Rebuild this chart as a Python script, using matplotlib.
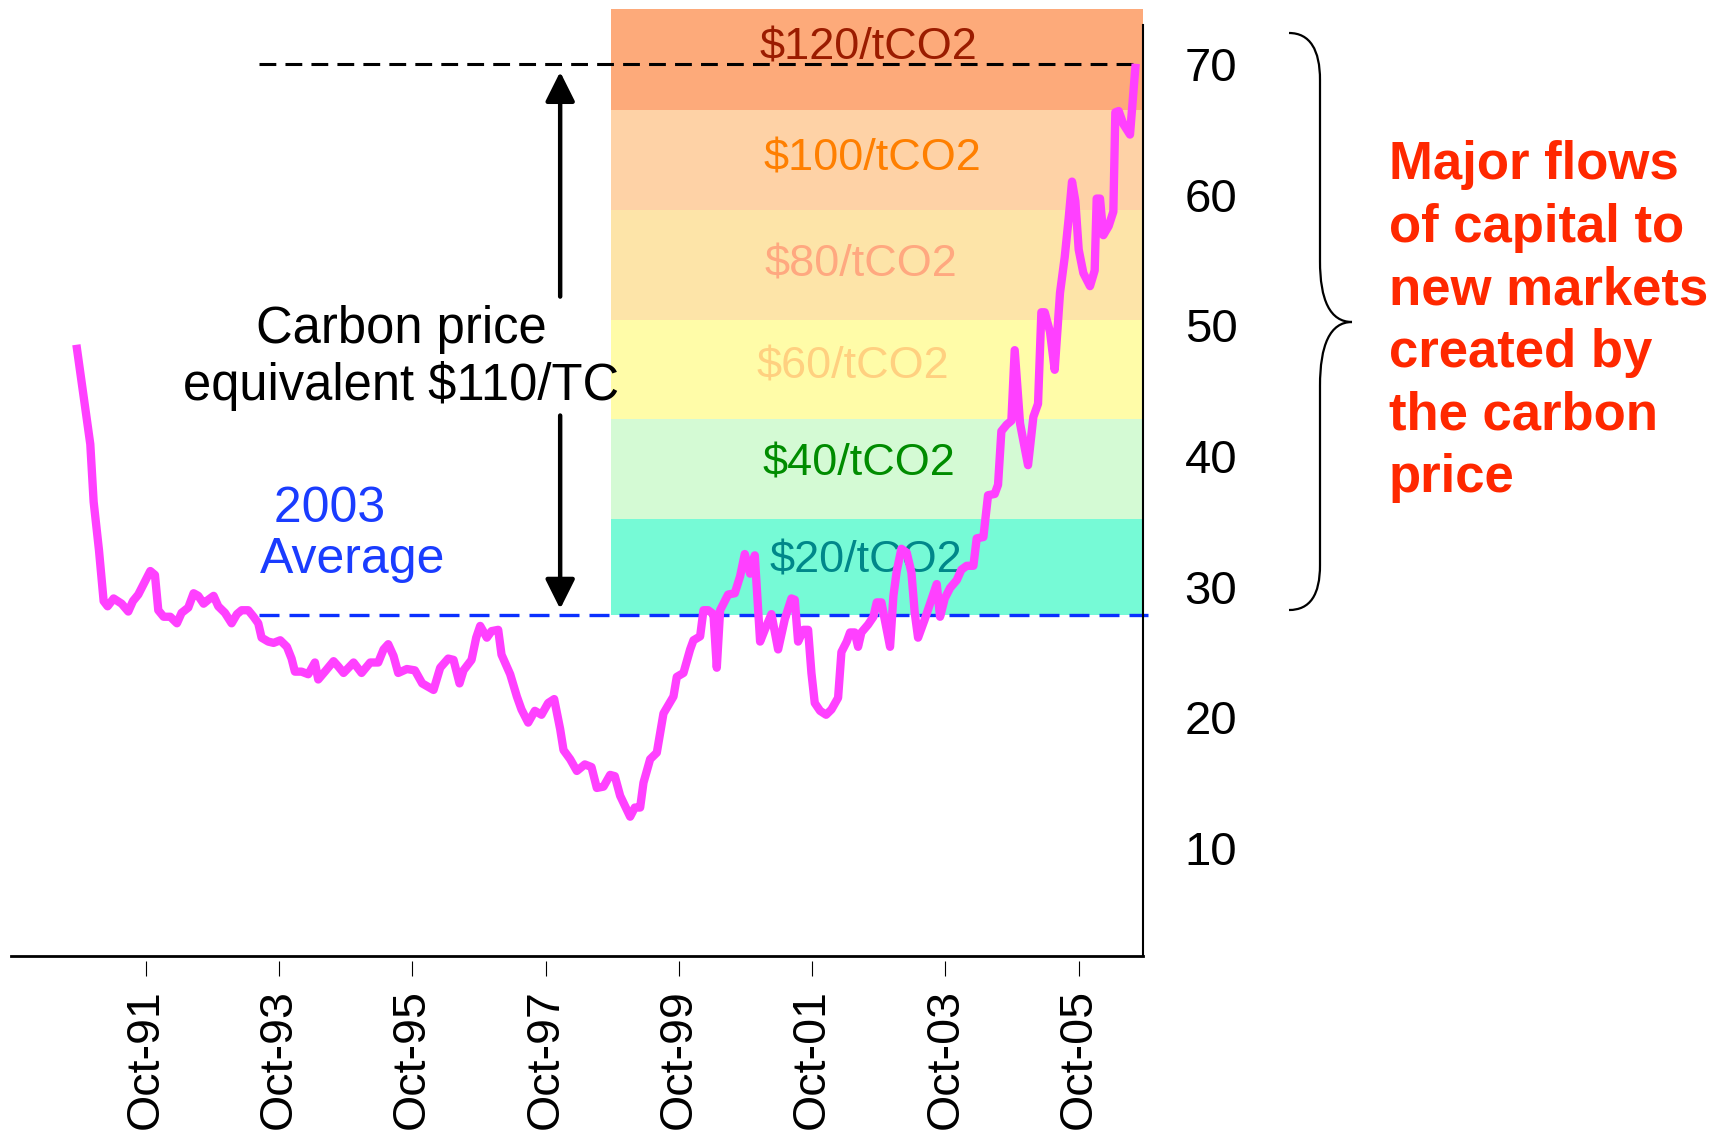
import matplotlib
matplotlib.use("Agg")
import matplotlib.pyplot as plt
from matplotlib.path import Path
from matplotlib.patches import PathPatch
from matplotlib.transforms import Affine2D

plt.rcParams['font.family'] = ['Liberation Sans', 'DejaVu Sans']

# oil price readings ($/bbl), decimal years
years = [
    1990.72, 1990.92, 1990.97, 1991.05, 1991.12, 1991.18, 1991.27, 1991.39, 1991.49, 1991.56,
    1991.64, 1991.74, 1991.82, 1991.89, 1991.94, 1992.02, 1992.12, 1992.22, 1992.29, 1992.39,
    1992.47, 1992.54, 1992.62, 1992.69, 1992.77, 1992.84, 1992.94, 1993.04, 1993.12, 1993.19,
    1993.29, 1993.37, 1993.44, 1993.49, 1993.59, 1993.67, 1993.77, 1993.87, 1993.94, 1993.99,
    1994.09, 1994.19, 1994.29, 1994.34, 1994.44, 1994.57, 1994.64, 1994.72, 1994.87, 1994.99,
    1995.12, 1995.24, 1995.32, 1995.39, 1995.47, 1995.54, 1995.67, 1995.79, 1995.90, 1996.07,
    1996.17, 1996.29, 1996.37, 1996.46, 1996.52, 1996.64, 1996.71, 1996.77, 1996.87, 1996.94,
    1997.04, 1997.09, 1997.22, 1997.32, 1997.39, 1997.49, 1997.59, 1997.69, 1997.79, 1997.88,
    1997.97, 1998.02, 1998.12, 1998.22, 1998.34, 1998.44, 1998.52, 1998.62, 1998.72, 1998.79,
    1998.87, 1999.02, 1999.09, 1999.17, 1999.22, 1999.32, 1999.42, 1999.52, 1999.67, 1999.72,
    1999.82, 1999.92, 1999.97, 2000.07, 2000.12, 2000.19, 2000.27, 2000.32, 2000.37, 2000.42,
    2000.49, 2000.59, 2000.67, 2000.74, 2000.82, 2000.89, 2000.97, 2001.04, 2001.14, 2001.24,
    2001.34, 2001.44, 2001.49, 2001.54, 2001.62, 2001.69, 2001.74, 2001.79, 2001.87, 2001.96,
    2002.04, 2002.14, 2002.19, 2002.27, 2002.32, 2002.39, 2002.44, 2002.49, 2002.59, 2002.67,
    2002.72, 2002.79, 2002.92, 2002.97, 2003.02, 2003.09, 2003.17, 2003.24, 2003.29, 2003.34,
    2003.44, 2003.54, 2003.62, 2003.67, 2003.74, 2003.82, 2003.92, 2003.99, 2004.07, 2004.17,
    2004.22, 2004.32, 2004.39, 2004.49, 2004.54, 2004.59, 2004.67, 2004.74, 2004.79, 2004.87,
    2004.99, 2005.07, 2005.14, 2005.19, 2005.24, 2005.32, 2005.39, 2005.47, 2005.54, 2005.60,
    2005.65, 2005.70, 2005.75, 2005.82, 2005.92, 2005.99, 2006.02, 2006.07, 2006.12, 2006.20,
    2006.27, 2006.30, 2006.35, 2006.42, 2006.52, 2006.60,
]
price = [
    48.2, 40.9, 36.5, 32.8, 28.9, 28.5, 29.1, 28.7, 28.1, 28.9,
    29.4, 30.4, 31.2, 30.9, 28.2, 27.7, 27.7, 27.2, 28.0, 28.4,
    29.5, 29.3, 28.7, 29.0, 29.3, 28.5, 28.0, 27.2, 27.9, 28.2,
    28.2, 27.7, 27.2, 26.1, 25.8, 25.7, 25.9, 25.4, 24.5, 23.5,
    23.5, 23.3, 24.2, 22.9, 23.5, 24.3, 23.9, 23.4, 24.2, 23.4,
    24.2, 24.2, 25.2, 25.6, 24.7, 23.4, 23.7, 23.6, 22.6, 22.1,
    23.8, 24.5, 24.4, 22.6, 23.6, 24.4, 26.1, 27.0, 26.1, 26.6,
    26.7, 24.8, 23.3, 21.6, 20.6, 19.6, 20.5, 20.2, 21.1, 21.4,
    19.1, 17.5, 16.8, 15.9, 16.4, 16.2, 14.6, 14.7, 15.6, 15.5,
    14.0, 12.4, 13.1, 13.1, 15.0, 16.8, 17.3, 20.3, 21.6, 23.1,
    23.4, 25.2, 25.9, 26.2, 28.2, 28.2, 27.9, 23.8, 28.2, 28.7,
    29.4, 29.5, 30.8, 32.5, 31.0, 32.4, 25.8, 26.7, 27.9, 25.2,
    27.5, 29.1, 29.0, 25.8, 26.7, 26.7, 23.4, 21.1, 20.5, 20.2,
    20.6, 21.5, 25.0, 25.8, 26.5, 26.5, 25.4, 26.5, 27.1, 27.7,
    28.8, 28.8, 25.4, 29.3, 31.2, 32.9, 32.6, 31.1, 28.0, 26.1,
    27.5, 29.0, 30.2, 27.7, 29.1, 29.9, 30.5, 31.3, 31.6, 31.6,
    33.7, 33.8, 37.0, 37.1, 37.8, 41.9, 42.4, 42.7, 48.1, 42.5,
    39.3, 43.0, 44.0, 51.0, 51.0, 49.5, 46.6, 52.5, 55.2, 58.2,
    61.0, 59.5, 55.8, 54.0, 53.0, 54.2, 59.7, 59.7, 56.9, 57.6,
    58.7, 66.3, 66.4, 65.4, 64.6, 69.7,
]

tick_years = [1991, 1993, 1995, 1997, 1999, 2001, 2003, 2005]
tick_labels = ['Oct-91', 'Oct-93', 'Oct-95', 'Oct-97', 'Oct-99', 'Oct-01', 'Oct-03', 'Oct-05']
y_ticks = [10, 20, 30, 40, 50, 60, 70]

avg_2003 = 27.8
price_today = 70
band_edges = [27.8, 35.2, 42.8, 50.4, 58.85, 66.5, 74.2]
band_labels = ['$20/tCO2', '$40/tCO2', '$60/tCO2', '$80/tCO2', '$100/tCO2', '$120/tCO2']
band_colors = ['#76FAD6', '#D4FAD4', '#FFFCA8', '#FDE4A8', '#FED2A6', '#FDAA7A']
label_colors = ['#00878A', '#008C00', '#FFD080', '#FFA880', '#FF7F00', '#9B1C00']

# layout
x_left, x_right = 1989.73, 2006.716
band_start = 1998.74
line_start = 1993.45
label_y = [32.0, 39.4, 46.8, 54.6, 62.7, 71.2]
label_x = [2002.55, 2002.45, 2002.36, 2002.48, 2002.66, 2002.60]

fig = plt.figure(figsize=(17.31, 11.36), dpi=100)
ax = fig.add_axes([0.00635, 0.15845, 0.654, 0.8195])
ax.set_xlim(x_left, x_right)
ax.set_ylim(1.74, 72.98)

# carbon price bands
for i in range(len(band_labels)):
    ax.fill_between([band_start, x_right], band_edges[i], band_edges[i + 1],
                    color=band_colors[i], lw=0, zorder=1, clip_on=False)
    ax.text(label_x[i], label_y[i], band_labels[i], color=label_colors[i],
            fontsize=32.5, ha='center', va='center', zorder=2)

ax.plot([line_start, x_right], [price_today, price_today], color='black',
        lw=2.2, ls=(0, (5.5, 3)), zorder=3, clip_on=False)
ax.plot([line_start, x_right + 0.08], [avg_2003, avg_2003], color='#0A30FF',
        lw=2.4, ls=(0, (6, 3)), zorder=3, clip_on=False)

ax.plot(years, price, color='#FF40FF', lw=6.0, zorder=4)

# arrow between the average and today's price
arrow_x = 1997.97
head = dict(arrowstyle='-|>,head_length=0.9,head_width=0.45', mutation_scale=20,
            lw=3.2, color='black', shrinkA=0, shrinkB=0)
ax.annotate('', xy=(arrow_x, 69.4), xytext=(arrow_x, 52.2), arrowprops=head, zorder=5)
ax.annotate('', xy=(arrow_x, 28.3), xytext=(arrow_x, 43.1), arrowprops=head, zorder=5)

ax.text(1995.58, 47.5, 'Carbon price\nequivalent $110/TC', fontsize=36.5,
        ha='center', va='center', multialignment='center', linespacing=1.2, zorder=5)
ax.text(1993.47, 34.0, ' 2003\nAverage', fontsize=36, color='#1A3CFF',
        ha='left', va='center', linespacing=1.13, zorder=5)

# axes styling
for side in ['left', 'top']:
    ax.spines[side].set_visible(False)
ax.spines['bottom'].set_linewidth(2.0)
ax.spines['right'].set_linewidth(1.5)
ax.spines['right'].set_zorder(6)

ax.yaxis.tick_right()
ax.set_yticks(y_ticks)
ax.set_yticklabels([str(v) for v in y_ticks])
ax.tick_params(axis='y', length=0, pad=30, labelsize=34)
ax.tick_params(axis='x', length=0, labelbottom=False)

sec = ax.secondary_xaxis(-0.0055)
sec.spines['bottom'].set_visible(False)
sec.set_xticks([y + 0.75 for y in tick_years])
sec.set_xticklabels(tick_labels, rotation=90)
sec.tick_params(axis='x', direction='out', length=11, width=0.8, pad=9, labelsize=33.5)

# brace and message on the right
verts = [(1289, 33), (1310, 33), (1320, 50), (1320, 80),
         (1320, 261),
         (1320, 300), (1330, 322), (1352, 322),
         (1330, 322), (1320, 345), (1320, 386),
         (1320, 565),
         (1320, 595), (1310, 610), (1289, 610)]
codes = [Path.MOVETO, Path.CURVE4, Path.CURVE4, Path.CURVE4,
         Path.LINETO,
         Path.CURVE4, Path.CURVE4, Path.CURVE4,
         Path.CURVE4, Path.CURVE4, Path.CURVE4,
         Path.LINETO,
         Path.CURVE4, Path.CURVE4, Path.CURVE4]
verts = [(x, 1136 - y) for x, y in verts]
px = Affine2D().scale(1 / 1731, 1 / 1136) + fig.transFigure
fig.add_artist(PathPatch(Path(verts, codes), fill=False, lw=1.6,
                         edgecolor='black', transform=px))

fig.text(0.8024, 0.717, 'Major flows\nof capital to\nnew markets\ncreated by\nthe carbon\nprice',
         color='#FF2800', fontsize=38, fontweight='bold', ha='left', va='center',
         linespacing=1.32)

fig.savefig('out.png', dpi=100)
